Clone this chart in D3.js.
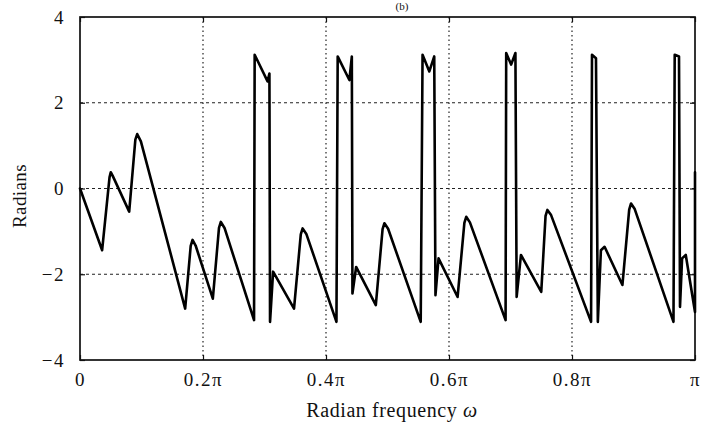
<!DOCTYPE html>
<html><head><meta charset="utf-8">
<script src="https://cdn.jsdelivr.net/npm/d3@7"></script>
<style>
html,body{margin:0;padding:0;background:#fff;}
svg{display:block;}
text{font-family:"Liberation Serif","DejaVu Serif",serif;fill:#111;}
</style></head>
<body>
<svg id="chart" width="704" height="425"></svg>
<script>
// frequency in units of pi
const omegaOverPi = [0,0.036,0.048,0.050,0.053,0.080,0.090,0.093,0.099,0.171,0.180,0.183,0.188,0.216,0.226,0.229,0.235,0.283,0.284,0.305,0.308,0.309,0.314,0.348,0.359,0.362,0.368,0.417,0.419,0.438,0.442,0.443,0.449,0.481,0.492,0.495,0.501,0.554,0.557,0.568,0.576,0.578,0.583,0.614,0.625,0.628,0.634,0.692,0.693,0.701,0.708,0.710,0.717,0.750,0.757,0.760,0.766,0.831,0.8325,0.839,0.842,0.847,0.853,0.882,0.893,0.896,0.902,0.965,0.967,0.974,0.9756,0.979,0.985,1.0,1.0];
// phase in radians
const phase = [0,-1.44,0.26,0.38,0.30,-0.54,1.14,1.27,1.10,-2.80,-1.34,-1.20,-1.33,-2.57,-0.92,-0.78,-0.92,-3.07,3.12,2.50,2.68,-3.11,-1.94,-2.80,-1.07,-0.93,-1.06,-3.11,3.08,2.53,3.08,-2.45,-1.83,-2.72,-0.95,-0.81,-0.94,-3.11,3.12,2.73,3.08,-2.49,-1.63,-2.53,-0.80,-0.66,-0.79,-3.07,3.16,2.89,3.16,-2.53,-1.55,-2.41,-0.64,-0.50,-0.62,-3.11,3.12,3.04,-3.11,-1.44,-1.36,-2.25,-0.49,-0.35,-0.48,-3.11,3.12,3.08,-2.76,-1.63,-1.55,-2.88,0.38];
const xTickValues = [0,0.2,0.4,0.6,0.8,1.0];
const xTickLabels = ["0","0.2\u03C0","0.4\u03C0","0.6\u03C0","0.8\u03C0","\u03C0"];
const yTickValues = [-4,-2,0,2,4];
const yTickLabels = ["\u22124","\u22122","0","2","4"];
const gridX = [0.2,0.4,0.6,0.8];
const gridY = [-2,0,2];

const svg = d3.select("#chart");
const L = 80, R = 695, T = 17, B = 360;
const x = d3.scaleLinear().domain([0, Math.PI]).range([L, R]);
const y = d3.scaleLinear().domain([-4, 4]).range([B, T]);

// title
svg.append("text").attr("x", 402).attr("y", 10).attr("text-anchor","middle")
  .attr("font-size", 11).text("(b)");

// grid
const g = svg.append("g");
g.selectAll("line.gx").data(gridX).join("line")
  .attr("x1", d => x(d*Math.PI)).attr("x2", d => x(d*Math.PI))
  .attr("y1", T).attr("y2", B)
  .attr("stroke", "#222").attr("stroke-width", 1.2).attr("stroke-dasharray", "1.5,3");
g.selectAll("line.gy").data(gridY).join("line")
  .attr("x1", L).attr("x2", R)
  .attr("y1", d => y(d)).attr("y2", d => y(d))
  .attr("stroke", "#222").attr("stroke-width", 1.1).attr("stroke-dasharray", "3,3");

// axes with inward ticks
const xb = d3.axisBottom(x).tickValues(xTickValues.map(v => v*Math.PI))
  .tickFormat((d,i) => xTickLabels[i]).tickSizeInner(-5).tickSizeOuter(0).tickPadding(13);
const xt = d3.axisTop(x).tickValues(xTickValues.map(v => v*Math.PI))
  .tickFormat("").tickSizeInner(-5).tickSizeOuter(0);
const yl = d3.axisLeft(y).tickValues(yTickValues)
  .tickFormat((d,i) => yTickLabels[i]).tickSizeInner(-5).tickSizeOuter(0).tickPadding(15);
const yr = d3.axisRight(y).tickValues(yTickValues)
  .tickFormat("").tickSizeInner(-5).tickSizeOuter(0);

function style(sel){
  sel.select(".domain").remove();
  sel.selectAll(".tick line").attr("stroke","#111").attr("stroke-width",1.2);
  sel.selectAll(".tick text").attr("font-size",19).attr("fill","#111")
    .attr("letter-spacing", 1.5)
    .attr("font-family","'Liberation Serif',serif");
}
svg.append("g").attr("transform",`translate(0,${B})`).call(xb).call(style);
svg.append("g").attr("transform",`translate(0,${T})`).call(xt).call(style);
svg.append("g").attr("transform",`translate(${L},0)`).call(yl).call(style);
svg.append("g").attr("transform",`translate(${R},0)`).call(yr).call(style);

// box
svg.append("rect").attr("x", L).attr("y", T).attr("width", R-L).attr("height", B-T)
  .attr("fill","none").attr("stroke","#111").attr("stroke-width",1.7);

// curve
const pts = omegaOverPi.map((w,i) => [w*Math.PI, phase[i]]);
svg.append("path").datum(pts)
  .attr("fill","none").attr("stroke","#000").attr("stroke-width",2.6)
  .attr("stroke-linejoin","round").attr("stroke-linecap","round")
  .attr("d", d3.line().x(d => x(d[0])).y(d => y(d[1])));

// axis labels
svg.append("text").attr("x", 392).attr("y", 417).attr("text-anchor","middle")
  .attr("font-size", 20).attr("letter-spacing", 0.6)
  .html('Radian frequency <tspan font-style="italic">\u03C9</tspan>');
svg.append("text").attr("transform","translate(26,196) rotate(-90)")
  .attr("text-anchor","middle").attr("font-size",19).attr("letter-spacing",0.4).text("Radians");
</script>
</body></html>
